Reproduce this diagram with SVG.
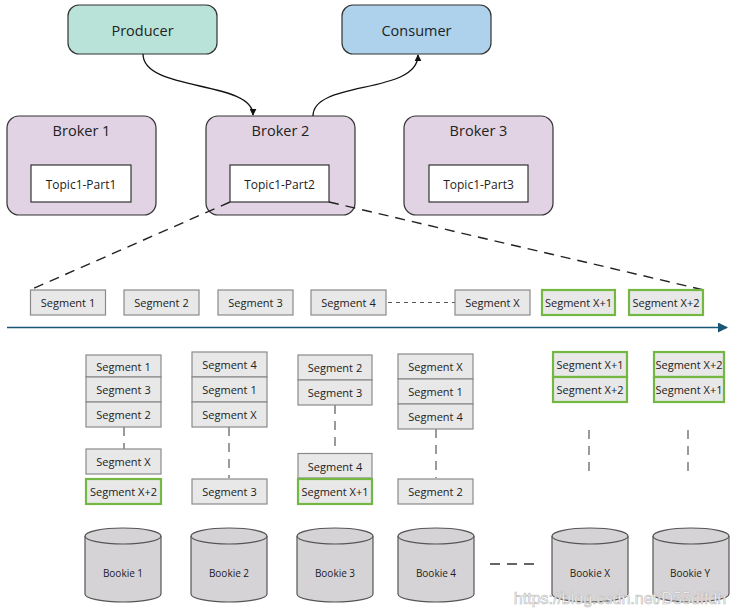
<svg xmlns="http://www.w3.org/2000/svg" width="733" height="611" viewBox="0 0 733 611">
<defs>
<marker id="ah" viewBox="0 0 10 10" refX="9" refY="5" markerWidth="7" markerHeight="7" orient="auto-start-reverse" markerUnits="userSpaceOnUse"><path d="M0,0 L10,5 L0,10 z" fill="#111"/></marker>
<marker id="ab" viewBox="0 0 10 10" refX="9" refY="5" markerWidth="12" markerHeight="10" orient="auto" markerUnits="userSpaceOnUse"><path d="M0,0 L10,5 L0,10 z" fill="#1a5677"/></marker>
<g id="cyl"><path d="M0,8 L0,66 A38,8 0 0 0 76,66 L76,8" fill="#d6d3d6" stroke="#555" stroke-width="1.2"/><ellipse cx="38" cy="8" rx="38" ry="8" fill="#d6d3d6" stroke="#555" stroke-width="1.2"/></g>
</defs>
<style>
text{font-family:"Open Sans","Noto Sans","Liberation Sans",sans-serif;fill:#222;text-anchor:middle;dominant-baseline:central}
.big{font-size:14.5px}
.topic{font-size:12px}
.seg{font-size:11px}
.bk{font-size:10px}
.rnd{stroke:#333;stroke-width:1.2}
.s{fill:#e8e8e8;stroke:#8a8a8a;stroke-width:1.2}
.g{fill:#e8e8e8;stroke:#74b843;stroke-width:2.2}
.dash{fill:none;stroke:#666;stroke-width:1.3;stroke-dasharray:9,7}
</style>
<rect width="733" height="611" fill="#fff"/>

<g id="producer"><rect class="rnd" x="68" y="5" width="149" height="49" rx="11" fill="#b9e3d9"/><text class="big" x="142.5" y="30">Producer</text></g>
<g id="consumer"><rect class="rnd" x="342" y="5" width="149" height="49" rx="11" fill="#aed2ec"/><text class="big" x="416.5" y="30">Consumer</text></g>

<g id="broker1"><rect class="rnd" x="7" y="116" width="149" height="99" rx="12" fill="#e1d3e3"/><text class="big" x="81.5" y="130">Broker 1</text><rect x="31" y="165" width="100" height="37" fill="#fff" stroke="#333" stroke-width="1.2"/><text class="topic" x="81" y="184">Topic1-Part1</text></g>
<g id="broker2"><rect class="rnd" x="206" y="116" width="149" height="99" rx="12" fill="#e1d3e3"/><text class="big" x="280.5" y="130">Broker 2</text><rect x="230" y="165" width="99" height="37" fill="#fff" stroke="#333" stroke-width="1.2"/><text class="topic" x="279.5" y="184">Topic1-Part2</text></g>
<g id="broker3"><rect class="rnd" x="404" y="116" width="149" height="99" rx="12" fill="#e1d3e3"/><text class="big" x="478.5" y="130">Broker 3</text><rect x="429" y="165" width="99" height="37" fill="#fff" stroke="#333" stroke-width="1.2"/><text class="topic" x="478.5" y="184">Topic1-Part3</text></g>

<g id="connectors">
<path d="M143,54 C143,92 253,80 253,115" fill="none" stroke="#111" stroke-width="1.3" marker-end="url(#ah)"/>
<path d="M313,116 C313,80 418,95 418,55" fill="none" stroke="#111" stroke-width="1.3" marker-end="url(#ah)"/>
<path d="M230,202 L30,290" fill="none" stroke="#222" stroke-width="1.4" stroke-dasharray="10,7"/>
<path d="M329,202 L704,290" fill="none" stroke="#222" stroke-width="1.4" stroke-dasharray="10,7"/>
<path d="M388,302.5 L455,302.5" fill="none" stroke="#555" stroke-width="1" stroke-dasharray="4,4"/>
<path d="M7,327.5 L727,327.5" fill="none" stroke="#1a5677" stroke-width="1.5" marker-end="url(#ab)"/>
<path class="dash" d="M124,427 L124,449"/>
<path class="dash" d="M229,427 L229,478"/>
<path class="dash" d="M335,405 L335,453"/>
<path class="dash" d="M436,429 L436,478"/>
<path class="dash" d="M589,430 L589,478"/>
<path class="dash" d="M688,430 L688,478"/>
<path d="M490,564 L540,564" fill="none" stroke="#333" stroke-width="1.6" stroke-dasharray="10,7"/>
</g>

<g id="log">
<rect class="s" x="30.5" y="290" width="75" height="25"/><text class="seg" x="68" y="302.5">Segment 1</text>
<rect class="s" x="124" y="290" width="75" height="25"/><text class="seg" x="161.5" y="302.5">Segment 2</text>
<rect class="s" x="218" y="290" width="75" height="25"/><text class="seg" x="255.5" y="302.5">Segment 3</text>
<rect class="s" x="311" y="290" width="75" height="25"/><text class="seg" x="348.5" y="302.5">Segment 4</text>
<rect class="s" x="455" y="290" width="75" height="25"/><text class="seg" x="492.5" y="302.5">Segment X</text>
<rect class="g" x="542" y="290" width="73" height="25"/><text class="seg" x="578.5" y="302.5">Segment X+1</text>
<rect class="g" x="629" y="290" width="74" height="25"/><text class="seg" x="666" y="302.5">Segment X+2</text>
</g>

<g id="col1">
<rect class="s" x="86" y="355" width="75" height="22"/><text class="seg" x="123.5" y="366.5">Segment 1</text>
<rect class="s" x="86" y="377" width="75" height="25"/><text class="seg" x="123.5" y="389.5">Segment 3</text>
<rect class="s" x="86" y="402" width="75" height="25"/><text class="seg" x="123.5" y="414.5">Segment 2</text>
<rect class="s" x="86" y="449" width="75" height="25"/><text class="seg" x="123.5" y="461.5">Segment X</text>
<rect class="g" x="86" y="479" width="75" height="25"/><text class="seg" x="123.5" y="491.5">Segment X+2</text>
</g>
<g id="col2">
<rect class="s" x="192" y="352" width="75" height="25"/><text class="seg" x="229.5" y="364.5">Segment 4</text>
<rect class="s" x="192" y="377" width="75" height="25"/><text class="seg" x="229.5" y="389.5">Segment 1</text>
<rect class="s" x="192" y="402" width="75" height="25"/><text class="seg" x="229.5" y="414.5">Segment X</text>
<rect class="s" x="192" y="479" width="75" height="25"/><text class="seg" x="229.5" y="491.5">Segment 3</text>
</g>
<g id="col3">
<rect class="s" x="298" y="355" width="74" height="25"/><text class="seg" x="335" y="367.5">Segment 2</text>
<rect class="s" x="298" y="380" width="74" height="25"/><text class="seg" x="335" y="392.5">Segment 3</text>
<rect class="s" x="298" y="453.5" width="74" height="24.5"/><text class="seg" x="335" y="466">Segment 4</text>
<rect class="g" x="298" y="479" width="74" height="25"/><text class="seg" x="335" y="491.5">Segment X+1</text>
</g>
<g id="col4">
<rect class="s" x="398" y="354" width="75" height="25"/><text class="seg" x="435.5" y="366.5">Segment X</text>
<rect class="s" x="398" y="379" width="75" height="25"/><text class="seg" x="435.5" y="391.5">Segment 1</text>
<rect class="s" x="398" y="404" width="75" height="25"/><text class="seg" x="435.5" y="416.5">Segment 4</text>
<rect class="s" x="398" y="479" width="75" height="25"/><text class="seg" x="435.5" y="491.5">Segment 2</text>
</g>
<g id="col5">
<rect class="g" x="553" y="352" width="74" height="25"/><text class="seg" x="590" y="364.5">Segment X+1</text>
<rect class="g" x="553" y="377" width="74" height="25"/><text class="seg" x="590" y="389.5">Segment X+2</text>
</g>
<g id="col6">
<rect class="g" x="654" y="352" width="70" height="25"/><text class="seg" x="689" y="364.5">Segment X+2</text>
<rect class="g" x="654" y="377" width="70" height="25"/><text class="seg" x="689" y="389.5">Segment X+1</text>
</g>

<g id="bookie1"><use href="#cyl" x="85" y="528"/><text class="bk" x="123" y="573">Bookie 1</text></g>
<g id="bookie2"><use href="#cyl" x="191" y="528"/><text class="bk" x="229" y="573">Bookie 2</text></g>
<g id="bookie3"><use href="#cyl" x="297" y="528"/><text class="bk" x="335" y="573">Bookie 3</text></g>
<g id="bookie4"><use href="#cyl" x="398" y="528"/><text class="bk" x="436" y="573">Bookie 4</text></g>
<g id="bookieX"><use href="#cyl" x="552" y="528"/><text class="bk" x="590" y="573">Bookie X</text></g>
<g id="bookieY"><use href="#cyl" x="653" y="528" transform="translate(0,0)"/><text class="bk" x="690" y="573">Bookie Y</text></g>

<text x="620" y="598" style="font-family:'Liberation Sans',Arial,sans-serif;font-size:16px;fill:#fff;stroke:#b8b8b8;stroke-width:0.6;text-anchor:middle">https://blog.csdn.net/D55dffdh</text>
</svg>
